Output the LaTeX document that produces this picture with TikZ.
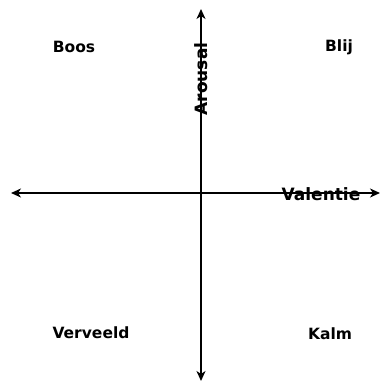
\documentclass[tikz,border=0pt]{standalone}
\usepackage{fontspec}
\setmainfont{DejaVu Sans}
\usepackage{tikz}
\usetikzlibrary{positioning, arrows.meta}

\begin{document}
\begin{tikzpicture}[
  x=1pt, y=-1pt,
  axis/.style={line width=2pt, {Stealth[length=10pt, width=9pt, inset=3pt]}-{Stealth[length=10pt, width=9pt, inset=3pt]}},
  quad/.style={font=\bfseries\fontsize{15.5}{18}\selectfont, inner sep=0pt},
  axlab/.style={font=\bfseries\fontsize{17}{19}\selectfont, inner sep=0pt},
]
\useasboundingbox (0,0) rectangle (380,382);

% --- Axis ends ---
\coordinate (west) at (11,193);
\coordinate (east) at (380,193);
\coordinate (north) at (201,9);
\coordinate (south) at (201,381);

% --- Axes ---
\draw[axis] (west) -- (east);
\draw[axis] (south) -- (north);

% --- Axis labels ---
\node[axlab] (val) at (321,194) {Valentie};
\node[axlab, rotate=90] (aro) at (201,79) {Arousal};

% --- Quadrants ---
\node[quad] (boos) at (74,47) {Boos};
\node[quad] (blij) at (339,47) {Blij};
\node[quad] (verv) at (91,333) {Verveeld};
\node[quad] (kalm) at (330,334) {Kalm};

\end{tikzpicture}
\end{document}
